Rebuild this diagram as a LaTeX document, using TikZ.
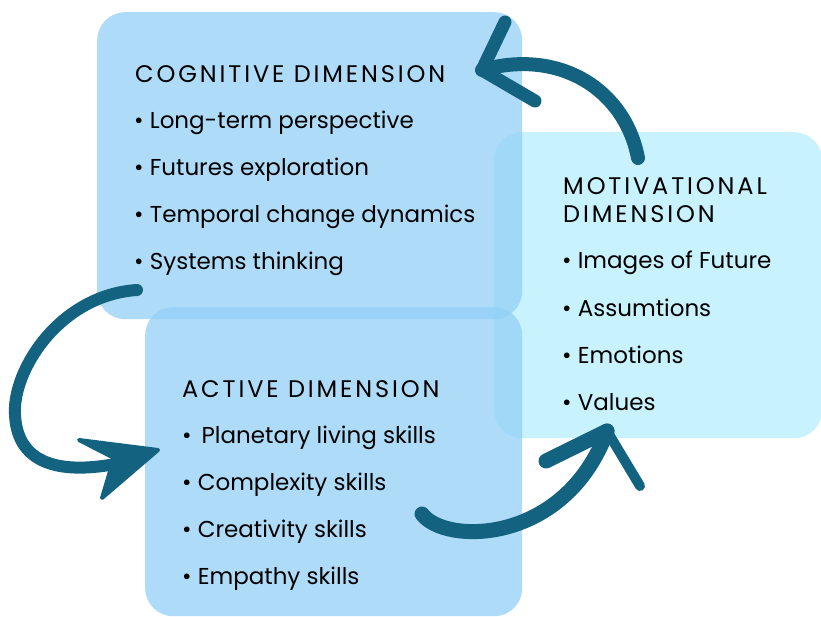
\documentclass[tikz,border=0pt]{standalone}
\usepackage{fontspec}
\setmainfont{Poppins}
\usetikzlibrary{arrows.meta}
\definecolor{boxblue}{RGB}{147,207,246}
\definecolor{boxcyan}{RGB}{182,238,252}
\definecolor{arrowteal}{RGB}{19,98,127}
\tikzset{
  dimbox/.style={rounded corners=28pt, fill opacity=0.75, inner sep=0pt, anchor=north west},
  dimtitle/.style={font=\fontsize{24}{28}\selectfont\addfontfeature{LetterSpace=12}, anchor=base west, inner sep=0pt},
  dimitem/.style={font=\fontsize{23}{27}\selectfont, anchor=base west, inner sep=0pt},
  brush/.style={draw=arrowteal, line width=13pt, line cap=round, line join=round},
}

\begin{document}
\begin{tikzpicture}[x=1pt,y=-1pt]
  \useasboundingbox (0,0) rectangle (821,616);
  \node[dimbox, fill=boxcyan, minimum width=328pt, minimum height=306pt] (mot) at (494,132) {};
  \node[dimbox, fill=boxblue, minimum width=425pt, minimum height=307pt] (cog) at (97,12) {};
  \node[dimbox, fill=boxblue, minimum width=377pt, minimum height=309pt] (act) at (145,307) {};

  \node[dimtitle] (cogtitle) at (135,82) {COGNITIVE DIMENSION};
  \node[dimitem] (cog1) at (134,128) {• Long-term perspective};
  \node[dimitem] (cog2) at (134,175) {• Futures exploration};
  \node[dimitem] (cog3) at (134,222) {• Temporal change dynamics};
  \node[dimitem] (cog4) at (134,269) {• Systems thinking};

  \node[dimtitle] (mottitle) at (563,194) {MOTIVATIONAL};
  \node[dimtitle] (mottitleb) at (563,222) {DIMENSION};
  \node[dimitem] (mot1) at (562,268) {• Images of Future};
  \node[dimitem] (mot2) at (562,316) {• Assumtions};
  \node[dimitem] (mot3) at (562,363) {• Emotions};
  \node[dimitem] (mot4) at (562,410) {• Values};

  \node[dimtitle] (acttitle) at (182,397) {ACTIVE DIMENSION};
  \node[dimitem] (act1) at (182,443) {•\, Planetary living skills};
  \node[dimitem] (act2) at (182,490) {• Complexity skills};
  \node[dimitem] (act3) at (182,537) {• Creativity skills};
  \node[dimitem] (act4) at (182,584) {• Empathy skills};

  \coordinate (motout) at (638,158);
  \coordinate (cogin) at (482,70);
  \coordinate (cogout) at (137,290);
  \coordinate (actin) at (158,450);
  \coordinate (actout) at (422,514);
  \coordinate (motin) at (607,431);

  \draw[brush, line width=14pt] (motout) .. controls (625,90) and (560,48) .. (cogin);
  \draw[brush] (505,22) -- (cogin) -- (535,101);

  \draw[brush, line width=12pt] (cogout) .. controls (60,295) and (12,370) .. (15,415)
    .. controls (18,475) and (80,472) .. (125,462);
  \fill[arrowteal, draw=arrowteal, line width=4pt, line join=round]
    (actin) -- (79,440) -- (114,458) -- (102,498) -- cycle;

  \draw[brush, line width=15pt] (actout) .. controls (445,545) and (565,545) .. (motin);
  \draw[brush, line width=15pt] (546,461) -- (motin);
  \draw[brush, line width=10pt] (motin) -- (640,486);
\end{tikzpicture}
\end{document}
